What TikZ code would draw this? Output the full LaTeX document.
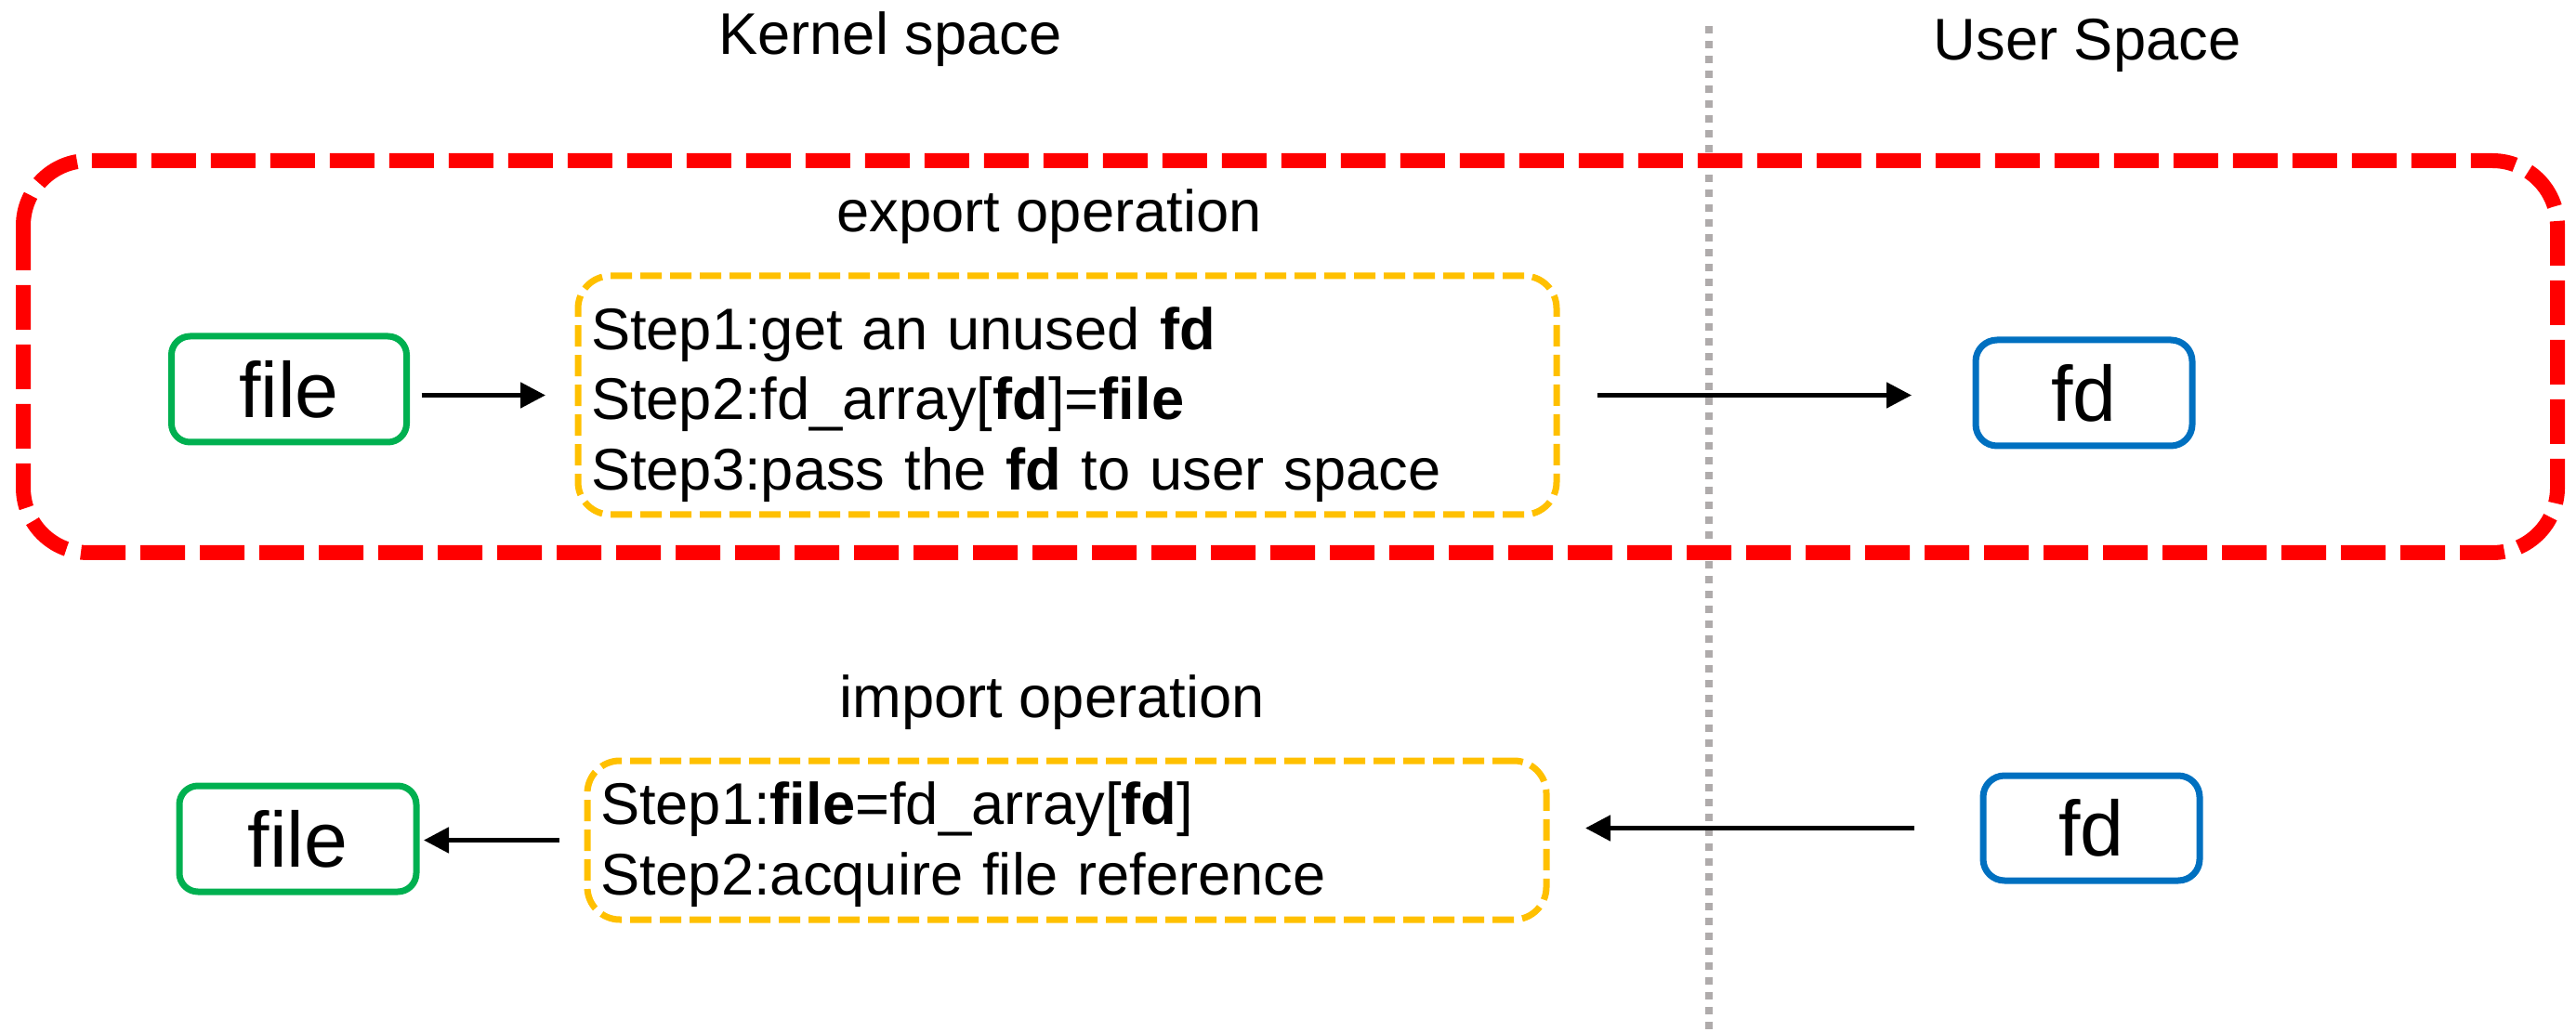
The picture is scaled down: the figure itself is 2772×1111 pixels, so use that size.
\documentclass[tikz,border=0pt]{standalone}
\usepackage{fontspec}
\setmainfont{Liberation Sans}
\usepackage{xcolor}
\usepackage{tikz}
\usetikzlibrary{calc}
\usetikzlibrary{arrows.meta}
\usetikzlibrary{positioning}
\definecolor{grpred}{HTML}{FF0000}
\definecolor{stepyellow}{HTML}{FFC000}
\definecolor{filegreen}{HTML}{00B050}
\definecolor{fdblue}{HTML}{0070C0}
\definecolor{divgray}{HTML}{AFABAB}
\tikzset{
  head/.style={anchor=base, font=\fontsize{18}{21.6}\selectfont},
  filebox/.style={draw=filegreen, line width=.7mm, rounded corners=2mm, outer sep=0, inner sep=0,
    minimum width=25.3mm, minimum height=11.4mm, font=\fontsize{24}{28}\selectfont},
  fdbox/.style={draw=fdblue, line width=.7mm, rounded corners=2.3mm, outer sep=0, inner sep=0,
    minimum width=23.3mm, minimum height=11.4mm, font=\fontsize{24}{28}\selectfont},
  stepbox/.style={draw=stepyellow, line width=.7mm, dash pattern=on 2.3mm off .9mm, rounded corners=3.5mm,
    outer sep=0, inner xsep=1.4mm, inner ysep=0, align=left, font=\fontsize{18}{21.6}\selectfont},
  arr/.style={line width=.5mm, ->, >={Triangle[length=2.7mm,width=2.7mm]}}
}

\begin{document}
\begin{tikzpicture}[x=.1mm, y=-.1mm]
\useasboundingbox (0,0) rectangle (2772,1111);
\coordinate (divtop) at (1839,28);
\coordinate (divbot) at (1839,1111);
\draw[divgray, line width=.8mm, dash pattern=on .8mm off .8mm] (divtop)--(divbot);
\draw[grpred, line width=1.6mm, dash pattern=on 4.8mm off 1.6mm, rounded corners=7mm] (25,173) rectangle (2752,595);
\node[head] (kernel) at (958,59) {Kernel space};
\node[head] (user) at (2246,65) {User Space};
\node[head] (exportlbl) at (1129,250) {export operation};
\node[head] (importlbl) at (1132,772) {import operation};
\node[filebox] (file1) at (311,419) {file};
\node[stepbox, text width=102.5mm, minimum height=25.7mm] (steps1) at (1148.5,425.5)
  {\rule{0pt}{6.6mm}Step1:get an unused \textbf{fd}\\Step2:fd\_array[\textbf{fd}]=\textbf{file}\\Step3:pass the \textbf{fd} to user space};
\node[fdbox] (fd1) at (2242.5,423) {fd};
\node[filebox, minimum width=25.5mm] (file2) at (320.5,903) {file};
\node[stepbox, text width=100.4mm, minimum height=17.1mm] (steps2) at (1148,904.5)
  {\rule{0pt}{5.6mm}Step1:\textbf{file}=fd\_array[\textbf{fd}]\\Step2:acquire file reference};
\node[fdbox, minimum height=11.3mm] (fd2) at (2250.5,891.5) {fd};
\draw[arr, shorten <=1.6mm, shorten >=3.5mm] (file1.east |- steps1.west)--(steps1.west);
\draw[arr, shorten <=4.4mm, shorten >=6.9mm] (steps1.east)--(steps1.east -| fd1.west);
\draw[arr, shorten <=7.4mm, shorten >=4.2mm] (fd2.west)--(fd2.west -| steps2.east);
\draw[arr, shorten <=3mm, shorten >=.8mm] (steps2.west)--(steps2.west -| file2.east);
\end{tikzpicture}
\end{document}
